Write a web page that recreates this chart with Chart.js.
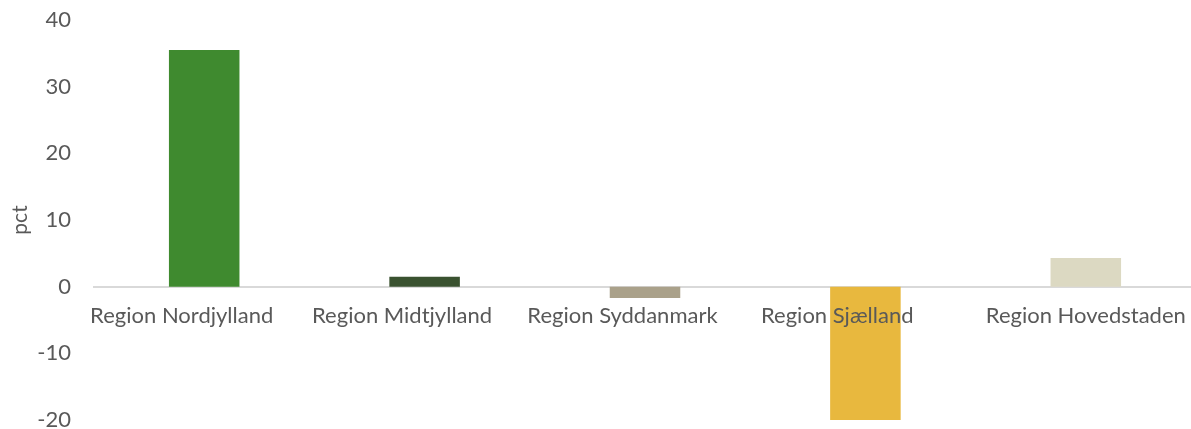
<!DOCTYPE html>
<html>
<head>
<meta charset="utf-8">
<script src="https://cdn.jsdelivr.net/npm/chart.js@4"></script>
<style>
  html, body { margin: 0; padding: 0; background: #fff; overflow: hidden; }
  #wrap { width: 1196px; height: 429px; position: relative; }
</style>
</head>
<body>
<div id="wrap"><canvas id="myChart"></canvas></div>
<script>
var regions = ['Region Nordjylland', 'Region Midtjylland', 'Region Syddanmark', 'Region Sjælland', 'Region Hovedstaden'];
var pctValues = [35.5, 1.5, -1.7, -20.1, 4.3];
var barColors = ['#3f8a2f', '#3a5230', '#aaa18a', '#e8b83e', '#dcd9c2'];
var yTicks = [-20, -10, 0, 10, 20, 30, 40];

// labels sit a bit left of their bars in the original
var labelPad = [8, 8, 8, 10, 0];

var ctx = document.getElementById('myChart').getContext('2d');
var chart = new Chart(ctx, {
  type: 'bar',
  data: {
    labels: regions,
    datasets: [{
      label: 'pct',
      data: pctValues,
      backgroundColor: barColors,
      borderWidth: 0,
      categoryPercentage: 1,
      barPercentage: 0.32
    }]
  },
  options: {
    responsive: true,
    maintainAspectRatio: false,
    animation: false,
    layout: { padding: { top: 0, right: 0, bottom: 0, left: 4 } },
    plugins: {
      legend: { display: false },
      tooltip: { enabled: false }
    },
    scales: {
      x: {
        position: { y: 0 },
        afterFit: function(scale) { scale.height = 0; },
        grid: { display: false },
        border: { display: true, color: '#d9d9d9', width: 2 },
        ticks: {
          z: 1,
          color: '#595959',
          font: { family: 'Lato', size: 22 },
          padding: 8,
          maxRotation: 0,
          autoSkip: false,
          callback: function(v, i) {
            return regions[i] + ' '.repeat(labelPad[i]);
          }
        }
      },
      y: {
        min: yTicks[0],
        max: yTicks[yTicks.length - 1],
        afterBuildTicks: function(scale) {
          scale.ticks = yTicks.map(function(v) { return { value: v }; });
        },
        afterFit: function(scale) {
          scale.width = 90;
          scale.paddingTop = 20;
          scale.paddingBottom = 9;
        },
        grid: { display: false },
        border: { display: false },
        ticks: {
          color: '#595959',
          font: { family: 'Lato', size: 22 },
          padding: 15
        },
        title: {
          display: true,
          text: 'pct',
          color: '#595959',
          font: { family: 'Lato', size: 21 },
          padding: 4
        }
      }
    }
  }
});
</script>
</body>
</html>
